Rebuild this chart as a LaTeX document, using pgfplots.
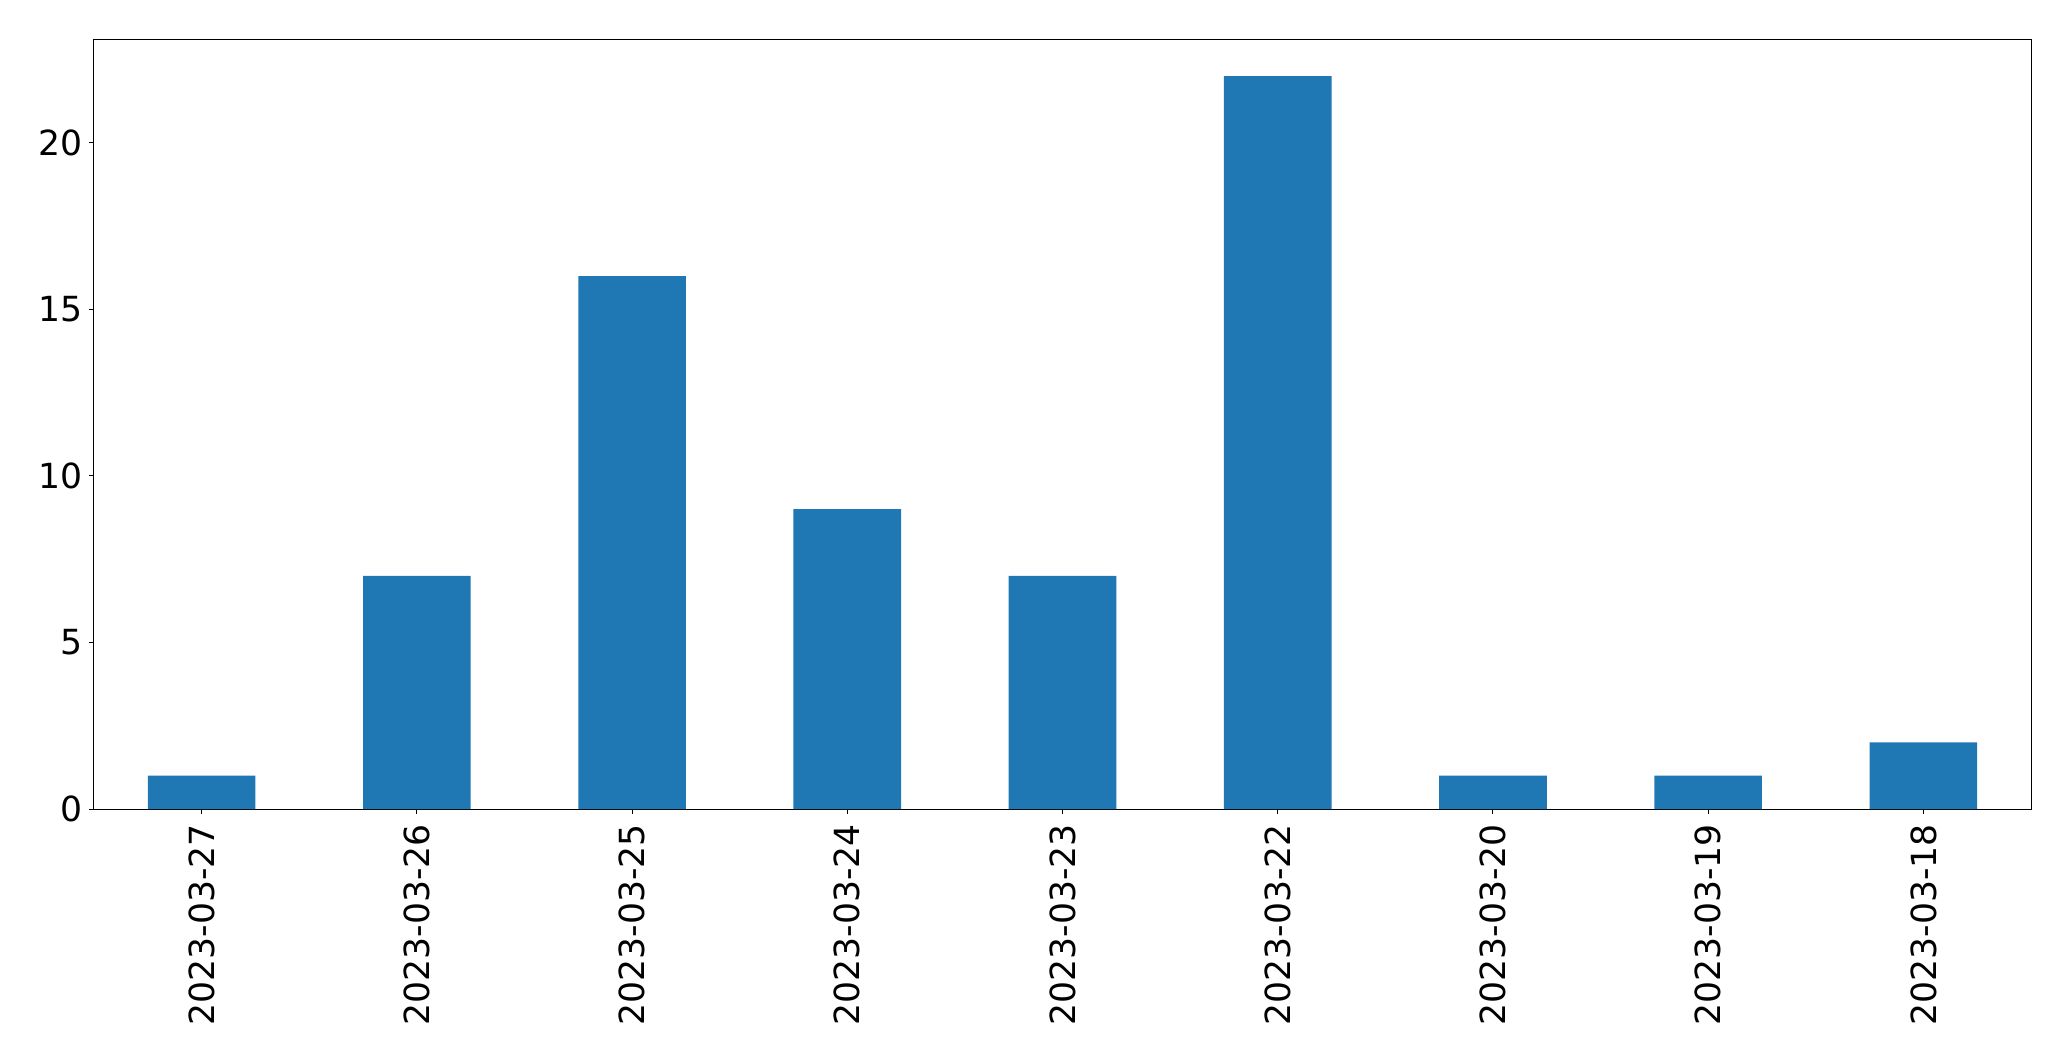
\documentclass[border=0pt]{standalone}
\usepackage{fontspec}
\setmainfont{DejaVu Sans}
\usepackage{pgfplots}
\pgfplotsset{compat=1.18}
\definecolor{mplblue}{HTML}{1F77B4}
\begin{document}
\begin{tikzpicture}
\useasboundingbox (-47pt,-126pt) rectangle (988.5pt,404.5pt);
\begin{axis}[
  at={(0,0)}, anchor=south west,
  scale only axis,
  width=968.5pt, height=384.7pt,
  xmin=-0.5, xmax=8.5, ymin=0, ymax=23.1,
  xtick={0,...,8},
  xticklabels={2023-03-27,2023-03-26,2023-03-25,2023-03-24,2023-03-23,2023-03-22,2023-03-20,2023-03-19,2023-03-18},
  ytick={0,5,10,15,20},
  x tick label style={rotate=90, anchor=east},
  tick label style={font=\fontsize{17.3}{18}\selectfont},
  /pgf/number format/assume math mode=true,
  tick align=outside, tick pos=left,
  major tick length=2.5pt,
  axis line style={line width=0.5pt},
  every tick/.style={black, line width=0.5pt},
  xticklabel shift=1.5pt,
  yticklabel shift=-0.5pt,
]
\addplot[ybar, bar width=0.5, fill=mplblue, draw=none] coordinates {
(0,1) (1,7) (2,16) (3,9) (4,7) (5,22) (6,1) (7,1) (8,2)
};
\end{axis}
\end{tikzpicture}
\end{document}
